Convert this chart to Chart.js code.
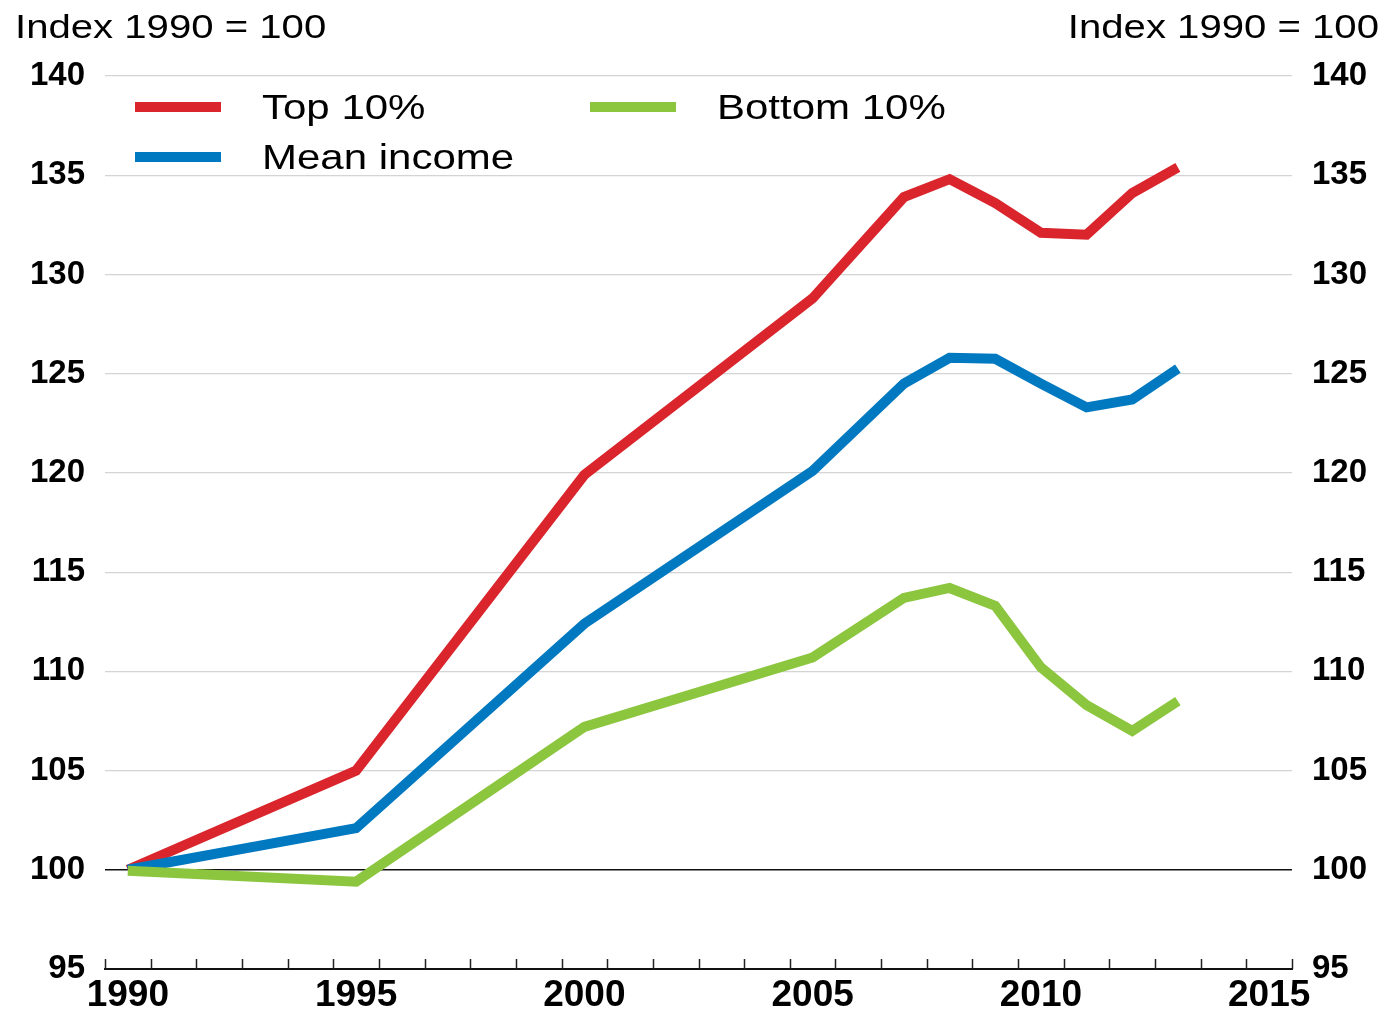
<!DOCTYPE html>
<html>
<head>
<meta charset="utf-8">
<script src="https://cdn.jsdelivr.net/npm/chart.js@4.4.1/dist/chart.umd.min.js"></script>
<style>
  html, body { margin: 0; padding: 0; background: #fff; }
  #chart { display: block; }
</style>
</head>
<body>
<canvas id="chart" width="1385" height="1012"></canvas>
<script>
  // data (index, 1990 = 100)
  const years = [1990, 1995, 2000, 2005, 2007, 2008, 2009, 2010, 2011, 2012, 2013];
  const top10 = [100, 105.0, 119.9, 128.8, 133.9, 134.8, 133.6, 132.1, 132.0, 134.1, 135.4];
  const meanIncome = [100, 102.1, 112.4, 120.1, 124.5, 125.8, 125.75, 124.5, 123.3, 123.7, 125.25];
  const bottom10 = [99.95, 99.4, 107.2, 110.7, 113.7, 114.2, 113.3, 110.2, 108.3, 107.0, 108.5];

  const seriesNames = ["Top 10%", "Mean income", "Bottom 10%"];
  const seriesColors = ["#da252d", "#0079c1", "#8cc63f"];
  const axisTitle = "Index 1990 = 100";

  const FONT = "'Liberation Sans', Arial, Helvetica, sans-serif";

  function toPoints(values) {
    return years.map((year, i) => ({ x: year, y: values[i] }));
  }

  function isWhole(v) {
    return Math.abs(v - Math.round(v)) < 0.01;
  }

  // small tick marks pointing up from the x axis, at the half years
  const upTicks = {
    id: "upTicks",
    beforeDatasetsDraw(chart) {
      const xs = chart.scales.x;
      const ctx = chart.ctx;
      const bottom = chart.chartArea.bottom;
      ctx.save();
      ctx.strokeStyle = "#222";
      ctx.lineWidth = 1.5;
      xs.ticks.forEach((t) => {
        if (isWhole(t.value)) return;
        const x = Math.round(xs.getPixelForValue(t.value)) + 0.5;
        ctx.beginPath();
        ctx.moveTo(x, bottom);
        ctx.lineTo(x, bottom - 10);
        ctx.stroke();
      });
      ctx.restore();
    },
  };

  // axis titles and the two-column legend
  const headerAndLegend = {
    id: "headerAndLegend",
    afterDraw(chart) {
      const ctx = chart.ctx;
      ctx.save();
      ctx.fillStyle = "#000";
      ctx.textBaseline = "alphabetic";
      ctx.font = "34px " + FONT;

      ctx.save();
      ctx.translate(15, 38);
      ctx.scale(1.18, 1);
      ctx.textAlign = "left";
      ctx.fillText(axisTitle, 0, 0);
      ctx.restore();

      ctx.save();
      ctx.translate(1379, 38);
      ctx.scale(1.18, 1);
      ctx.textAlign = "right";
      ctx.fillText(axisTitle, 0, 0);
      ctx.restore();

      const slots = [
        { x: 135, y: 107 },
        { x: 135, y: 157 },
        { x: 590, y: 107 },
      ];
      ctx.font = "35px " + FONT;
      chart.data.datasets.forEach((ds, i) => {
        const s = slots[i];
        ctx.fillStyle = ds.borderColor;
        ctx.fillRect(s.x, s.y - 5, 86, 10);
        ctx.save();
        ctx.translate(s.x + 127, s.y + 12);
        ctx.scale(1.2, 1);
        ctx.fillStyle = "#000";
        ctx.textAlign = "left";
        ctx.fillText(ds.label, 0, 0);
        ctx.restore();
      });
      ctx.restore();
    },
  };

  const lineStyle = {
    borderWidth: 10,
    pointRadius: 0,
    tension: 0,
    borderCapStyle: "butt",
    borderJoinStyle: "miter",
    fill: false,
  };

  new Chart(document.getElementById("chart"), {
    type: "line",
    data: {
      datasets: [
        { ...lineStyle, label: seriesNames[0], data: toPoints(top10), borderColor: seriesColors[0], order: 2 },
        { ...lineStyle, label: seriesNames[1], data: toPoints(meanIncome), borderColor: seriesColors[1], order: 1 },
        { ...lineStyle, label: seriesNames[2], data: toPoints(bottom10), borderColor: seriesColors[2], order: 0 },
      ],
    },
    options: {
      responsive: false,
      animation: false,
      layout: { padding: { top: 76, left: 0, right: 0, bottom: 0 } },
      plugins: {
        legend: { display: false },
        tooltip: { enabled: false },
      },
      scales: {
        x: {
          type: "linear",
          min: 1989.5,
          max: 2015.5,
          afterFit: (s) => { s.height = 43; },
          border: { display: true, color: "#111", width: 2 },
          grid: { drawOnChartArea: false, drawTicks: false },
          ticks: {
            stepSize: 0.5,
            autoSkip: false,
            maxRotation: 0,
            padding: 5,
            color: "#000",
            font: { family: FONT, size: 37, weight: "bold" },
            callback: (v) => {
              const r = Math.round(v);
              return isWhole(v) && r % 5 === 0 ? String(r) : "";
            },
          },
        },
        y: {
          position: "left",
          min: 95,
          max: 140,
          afterFit: (s) => { s.width = 105; },
          border: { display: false },
          grid: {
            drawTicks: false,
            color: (c) => {
              const v = c.tick && c.tick.value;
              if (v === 100) return "#111";
              if (v === 95) return "rgba(0,0,0,0)";
              return "#d4d4d4";
            },
            lineWidth: (c) => (c.tick && c.tick.value === 100 ? 1.6 : 1.2),
          },
          ticks: {
            stepSize: 5,
            padding: 20,
            color: "#000",
            font: { family: FONT, size: 33, weight: "bold" },
          },
        },
        y2: {
          position: "right",
          min: 95,
          max: 140,
          afterFit: (s) => { s.width = 93; },
          border: { display: false },
          grid: { display: false, drawTicks: false },
          ticks: {
            stepSize: 5,
            padding: 20,
            color: "#000",
            font: { family: FONT, size: 33, weight: "bold" },
          },
        },
      },
    },
    plugins: [upTicks, headerAndLegend],
  });
</script>
</body>
</html>
